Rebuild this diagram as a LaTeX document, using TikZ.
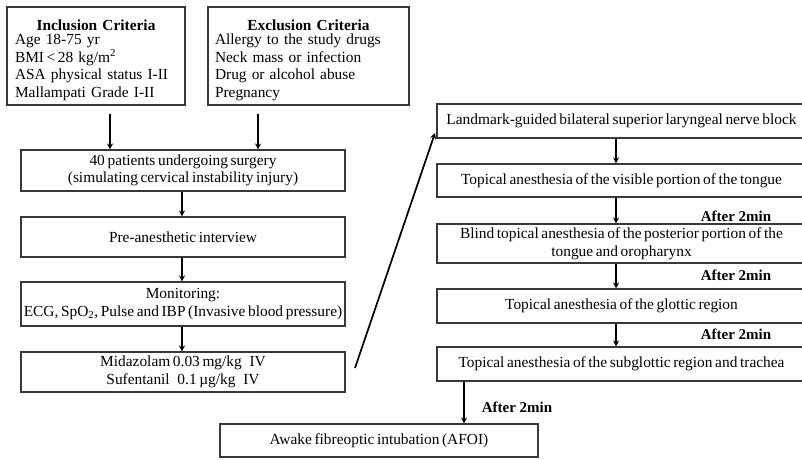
\documentclass[tikz,border=0pt]{standalone}
\usepackage{fontspec}
\setmainfont{Liberation Serif}
\usetikzlibrary{arrows.meta}
\newcommand{\txtfont}{\fontsize{15.4}{17.5}\selectfont\spaceskip=0.17em plus 0.05em minus 0.02em\relax}
\newcommand{\gap}{\hspace{0.5em}}
\tikzset{
  box/.style={draw=black!78, line width=1.1pt, rectangle, inner sep=0pt, align=center,
    font=\txtfont},
  flow/.style={line width=1.7pt, -{Stealth[length=6pt,width=6pt]}},
  note/.style={font=\fontsize{15}{17}\selectfont\bfseries, inner sep=0pt}
}
\newcommand{\boxat}[6]{% name, x1,y1,x2,y2, text
  \node[box, minimum width={#4-#2}, minimum height={#5-#3}] (#1) at ({(#2+#4)/2},{(#3+#5)/2}) {#6};}
\begin{document}
\begin{tikzpicture}[x=1pt,y=-1pt]
\useasboundingbox (0,0) rectangle (802,459);
% criteria
\node[box, minimum width=178, minimum height=98, text width=162, align=left, inner xsep=8pt]
  (incl) at (96,56) {\rule{0pt}{16pt}\raisebox{-2.5pt}{\makebox[162pt]{\bfseries Inclusion Criteria}}\\[-0.5pt]Age 18-75 yr\\BMI\,{<}\,28 kg/m\textsuperscript{2}\\ASA physical status I-II\\Mallampati Grade I-II};
\node[box, minimum width=201, minimum height=98, text width=187, align=left, inner xsep=7pt]
  (excl) at (308.5,56) {\rule{0pt}{16pt}\raisebox{-2.5pt}{\makebox[187pt]{\bfseries Exclusion Criteria}}\\[-0.5pt]Allergy to the study drugs\\Neck mass or infection\\Drug or alcohol abuse\\Pregnancy};
% left column
\boxat{pat}{21}{150}{345}{191}{40 patients undergoing surgery\\(simulating cervical instability injury)}
\boxat{pre}{21}{217}{345}{257}{Pre-anesthetic interview}
\boxat{mon}{21}{282}{345}{326}{Monitoring:\\ECG, SpO\textsubscript{2}, Pulse and IBP (Invasive blood pressure)}
\boxat{mid}{21}{352}{345}{392}{Midazolam 0.03 mg/kg\gap IV\\Sufentanil\gap 0.1 µg/kg\gap IV}
% right column
\boxat{slnb}{437}{104}{806}{138}{Landmark-guided bilateral superior laryngeal nerve block}
\boxat{vis}{437}{164}{806}{197}{Topical anesthesia of the visible portion of the tongue}
\boxat{blind}{437}{224}{806}{263}{Blind topical anesthesia of the posterior portion of the\\tongue and oropharynx}
\boxat{glot}{437}{289}{806}{323}{Topical anesthesia of the glottic region}
\boxat{sub}{437}{347}{806}{381}{Topical anesthesia of the subglottic region and trachea}
\boxat{afoi}{220}{424}{538}{457}{Awake fibreoptic intubation (AFOI)}
% connectors
\draw[flow] (incl.south -| 110,0) ++(0,8) -- (pat.north -| 110,0);
\draw[flow] (excl.south -| 258,0) ++(0,8) -- (pat.north -| 258,0);
\draw[flow] (pat.south -| 182,0) -- (pre.north -| 182,0);
\draw[flow] (pre.south -| 182,0) -- (mon.north -| 182,0);
\draw[flow] (mon.south -| 182,0) -- (mid.north -| 182,0);
\coordinate (d1) at (355,368);
\coordinate (d2) at (435,133);
\draw[flow] (d1) -- (d2);
\draw[flow] (slnb.south -| 616,0) -- (vis.north -| 616,0);
\draw[flow] (vis.south -| 616,0) -- (blind.north -| 616,0);
\draw[flow] (blind.south -| 616,0) -- (glot.north -| 616,0);
\draw[flow] (glot.south -| 616,0) -- (sub.north -| 616,0);
\draw[flow] (sub.south -| 464,0) -- (afoi.north -| 464,0);
% labels
\node[note] (n1) at (736,216) {After 2min};
\node[note] (n2) at (736,275) {After 2min};
\node[note] (n3) at (736,334) {After 2min};
\node[note] (n4) at (517,407) {After 2min};
\end{tikzpicture}
\end{document}
